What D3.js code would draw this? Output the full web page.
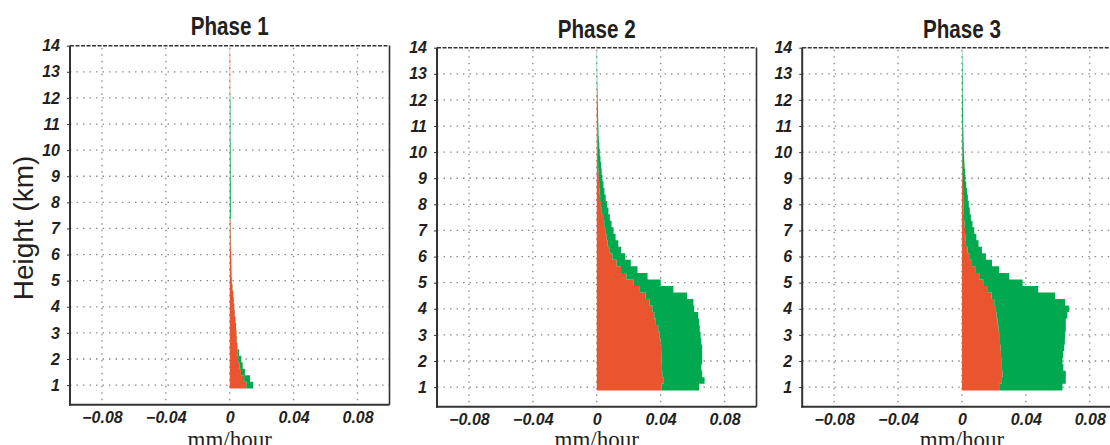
<!DOCTYPE html>
<html lang="en">
<head>
    <meta charset="UTF-8">
    <title>Phase profiles</title>
    <script src="https://d3js.org/d3.v7.min.js"></script>
    <style>
        body { margin: 0; background: #fff; }
        svg { display: block; }
        .tick text {
            font-family: "Liberation Sans", Arial, sans-serif;
            font-weight: bold;
            font-style: italic;
            font-size: 16px;
            fill: #231f20;
        }
        .tick line { stroke: #333; }
        .grid line {
            stroke: #8a8a8a;
            stroke-width: 1.3;
            stroke-dasharray: 1.5, 5;
        }
        .title {
            font-family: "Liberation Sans", Arial, sans-serif;
            font-weight: bold;
            font-size: 25px;
            fill: #231f20;
        }
    </style>
</head>
<body>
    <svg id="chart" width="1110" height="445"></svg>

    <script>
        // layer centres (km), 0.25 km thick
        var heights = [1.0, 1.25, 1.5, 1.75, 2.0, 2.25, 2.5, 2.75, 3.0, 3.25, 3.5, 3.75,
            4.0, 4.25, 4.5, 4.75, 5.0, 5.25, 5.5, 5.75, 6.0, 6.25, 6.5, 6.75,
            7.0, 7.25, 7.5, 7.75, 8.0, 8.25, 8.5, 8.75, 9.0, 9.25, 9.5, 9.75,
            10.0, 10.25, 10.5, 10.75, 11.0, 11.25, 11.5, 11.75, 12.0, 12.25, 12.5, 12.75,
            13.0, 13.25, 13.5, 13.75];

        // orange part (mm/hour), and top of the stacked green part
        var p1Orange = [.0105, .0090, .0070, .0060, .0053, .0049, .0046, .0044, .0042, .0039, .0036, .0031,
            .0028, .0025, .0021, .0017, .0013, .0011, .0010, .0009, .0008, .0007, .0006, .0006,
            .0005, .0005, .0002, .0002, .0002, .0002, .0002, .0002, .0002, .0002, .0002, .0002,
            .0002, .0002, .0002, .0002, .0002, .0002, .0002, .0002, .0002, .0003, .0003, .0003,
            .0003, .0003, .0003, .0002];
        var p1Total = [.0146, .0127, .0095, .0081, .0072, .0058, .0048, .0045, .0043, .0040, .0037, .0032,
            .0029, .0026, .0022, .0018, .0014, .0012, .0011, .0010, .0009, .0008, .0007, .0007,
            .0006, .0006, .0007, .0007, .0007, .0007, .0007, .0007, .0006, .0006, .0006, .0006,
            .0006, .0006, .0005, .0005, .0005, .0005, .0005, .0005, .0004, .0003, .0003, .0003,
            .0003, .0003, .0003, .0002];

        var p2Orange = [.0405, .0420, .0410, .0408, .0405, .0404, .0403, .0400, .0394, .0385, .0370, .0360,
            .0348, .0330, .0305, .0270, .0230, .0185, .0152, .0125, .0098, .0079, .0068, .0062,
            .0053, .0047, .0040, .0032, .0026, .0021, .0018, .0015, .0013, .0011, .0009, .0007,
            .0006, .0005, .0004, .0004, .0003, .0003, .0002, .0002, .0002, .0001, 0, 0,
            0, 0, 0, 0];
        var p2Total = [.0640, .0675, .0660, .0655, .0660, .0660, .0660, .0655, .0650, .0645, .0640, .0635,
            .0610, .0605, .0565, .0480, .0400, .0318, .0255, .0213, .0178, .0152, .0135, .0118,
            .0105, .0093, .0082, .0073, .0064, .0056, .0048, .0042, .0036, .0031, .0027, .0023,
            .0019, .0016, .0013, .0011, .0010, .0009, .0008, .0007, .0006, .0005, .0004, .0003,
            .0003, .0002, .0002, .0002];

        var p3Orange = [.0233, .0250, .0254, .0250, .0246, .0244, .0242, .0238, .0233, .0229, .0223, .0217,
            .0208, .0202, .0185, .0163, .0133, .0108, .0083, .0063, .0050, .0035, .0025, .0022,
            .0019, .0016, .0013, .0011, .0009, .0008, .0007, .0006, .0005, .0004, .0004, .0003,
            .0003, .0002, .0002, .0002, .0002, .0001, .0001, .0001, .0001, .0001, .0001, .0001,
            0, 0, 0, 0];
        var p3Total = [.0629, .0650, .0650, .0635, .0629, .0633, .0640, .0644, .0646, .0650, .0650, .0660,
            .0670, .0646, .0583, .0477, .0380, .0296, .0233, .0188, .0150, .0125, .0104, .0090,
            .0077, .0066, .0056, .0049, .0043, .0037, .0032, .0027, .0022, .0019, .0016, .0014,
            .0012, .0011, .0010, .0009, .0008, .0007, .0007, .0006, .0006, .0005, .0005, .0005,
            .0004, .0004, .0003, .0002];

        var xTicks = [-0.08, -0.04, 0, 0.04, 0.08];
        var xTickLabels = ["\u22120.08", "\u22120.04", "0", "0.04", "0.08"];
        var yTicks = [1, 2, 3, 4, 5, 6, 7, 8, 9, 10, 11, 12, 13, 14];

        var panels = [
            { title: "Phase 1", orange: p1Orange, total: p1Total, left: 70, top: 45.7, titleY: 35 },
            { title: "Phase 2", orange: p2Orange, total: p2Total, left: 437, top: 47.7, titleY: 37.5 },
            { title: "Phase 3", orange: p3Orange, total: p3Total, left: 802.2, top: 47.7, titleY: 37.5 }
        ];

        var orangeColor = "#ea552f";
        var greenColor = "#00a94f";
        var W = 319.5, H = 359;
        var half = 0.125;

        var svg = d3.select("#chart");

        panels.forEach(function(p) {
            var g = svg.append("g").attr("transform", "translate(" + p.left + "," + p.top + ")");

            var x = d3.scaleLinear().domain([-0.1, 0.1]).range([0, W]);
            var y = d3.scaleLinear().domain([0.25, 14]).range([H, 0]);

            // dotted grid
            var grid = g.append("g").attr("class", "grid");
            grid.selectAll(".vx").data(xTicks).enter().append("line")
                .attr("x1", d => x(d)).attr("x2", d => x(d))
                .attr("y1", 2).attr("y2", H);
            grid.selectAll(".hy").data(yTicks.filter(d => d < 14)).enter().append("line")
                .attr("x1", 0).attr("x2", W)
                .attr("y1", d => y(d)).attr("y2", d => y(d));

            // each layer gives two points (bottom and top) so the area is stepped
            var steps = [];
            heights.forEach(function(h, i) {
                steps.push({ h: h - half, o: p.orange[i], t: p.total[i] });
                steps.push({ h: h + half, o: p.orange[i], t: p.total[i] });
            });

            var orangeArea = d3.area()
                .y(d => y(d.h))
                .x0(x(0))
                .x1(d => x(d.o));
            var greenArea = d3.area()
                .y(d => y(d.h))
                .x0(d => x(d.o))
                .x1(d => x(d.t));

            g.append("path").datum(steps).attr("d", orangeArea).attr("fill", orangeColor);
            g.append("path").datum(steps).attr("d", greenArea).attr("fill", greenColor);

            // axes
            var yAxis = d3.axisLeft(y).tickValues(yTicks).tickSize(3).tickPadding(7);
            g.append("g").call(yAxis).call(a => a.select(".domain").remove());

            var xAxis = d3.axisBottom(x).tickValues(xTicks)
                .tickFormat((d, i) => xTickLabels[i]).tickSize(0).tickPadding(7);
            g.append("g").attr("transform", "translate(0," + H + ")")
                .call(xAxis).call(a => a.select(".domain").remove());

            // frame
            g.append("line").attr("x1", 0).attr("x2", 0).attr("y1", 0).attr("y2", H + 1)
                .attr("stroke", "#333").attr("stroke-width", 2);
            g.append("line").attr("x1", -1).attr("x2", W).attr("y1", H).attr("y2", H)
                .attr("stroke", "#333").attr("stroke-width", 2);
            g.append("line").attr("x1", W).attr("x2", W).attr("y1", 0).attr("y2", H)
                .attr("stroke", "#333").attr("stroke-width", 1.6);
            g.append("line").attr("x1", 0).attr("x2", W).attr("y1", 0).attr("y2", 0)
                .attr("stroke", "#333").attr("stroke-width", 1.6)
                .attr("stroke-dasharray", "4,1.5");

            // title (condensed like the original)
            svg.append("text").attr("class", "title")
                .attr("x", p.left + x(0)).attr("y", p.titleY)
                .attr("text-anchor", "middle")
                .attr("textLength", 78)
                .attr("lengthAdjust", "spacingAndGlyphs")
                .text(p.title);

            // x label
            svg.append("text")
                .attr("x", p.left + x(0)).attr("y", 447)
                .attr("text-anchor", "middle")
                .attr("font-family", "'Liberation Serif', 'Times New Roman', serif")
                .attr("font-size", 23)
                .attr("fill", "#231f20")
                .text("mm/hour");
        });

        svg.append("text")
            .attr("transform", "translate(33,228) rotate(-90)")
            .attr("text-anchor", "middle")
            .attr("font-family", "'Liberation Sans', Arial, sans-serif")
            .attr("font-size", 28)
            .attr("fill", "#231f20")
            .text("Height (km)");
    </script>
</body>
</html>
